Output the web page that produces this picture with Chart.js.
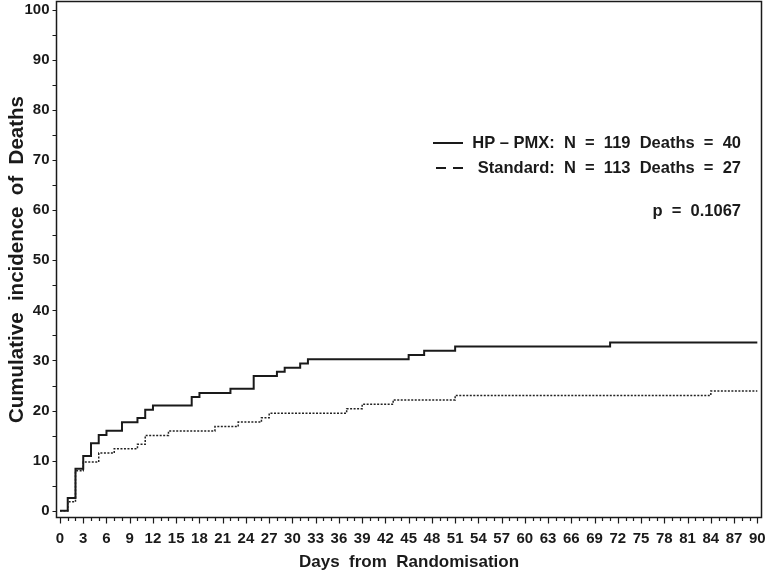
<!DOCTYPE html>
<html lang="en">
<head>
<meta charset="UTF-8">
<title>Cumulative incidence of Deaths</title>
<script src="https://cdn.jsdelivr.net/npm/chart.js"></script>
<style>
  html, body { margin: 0; padding: 0; background: #fff; }
  #wrap { width: 767px; height: 573px; }
</style>
</head>
<body>
<div id="wrap"><canvas id="cif"></canvas></div>
<script>
// step days and cumulative incidence (%) reached on that day
const hpDays = [0, 1, 2, 3, 4, 5, 6, 8, 10, 11, 12, 17, 18, 22, 25, 28, 29, 31, 32, 45, 47, 51, 71, 90];
const hpInc = [0, 2.52, 8.40, 10.92, 13.45, 15.13, 15.97, 17.65, 18.49, 20.17, 21.01, 22.69, 23.53, 24.37,
               26.89, 27.73, 28.57, 29.41, 30.25, 31.09, 31.93, 32.77, 33.61, 33.61];
const stdDays = [0, 1, 2, 3, 5, 7, 10, 11, 14, 20, 23, 26, 27, 37, 39, 43, 51, 84, 90];
const stdInc = [0, 1.77, 7.96, 9.73, 11.50, 12.39, 13.27, 15.04, 15.93, 16.81, 17.70, 18.58, 19.47,
                20.35, 21.24, 22.12, 23.01, 23.89, 23.89];

const xTicks = [0, 3, 6, 9, 12, 15, 18, 21, 24, 27, 30, 33, 36, 39, 42, 45, 48, 51, 54, 57, 60, 63, 66, 69, 72, 75, 78, 81, 84, 87, 90];
const yTicks = [0, 10, 20, 30, 40, 50, 60, 70, 80, 90, 100];

const legendLabels = ["HP \u2013 PMX:  N  =  119  Deaths  =  40", "Standard:  N  =  113  Deaths  =  27"];
const pLabel = "p  =  0.1067";

const FONT = "'Liberation Sans', Arial, sans-serif";
const NARROW = "'Liberation Sans Narrow', 'Liberation Sans', sans-serif";
const INK = "#1a1a1a";

const toPts = (xs, ys) => xs.map((d, i) => ({ x: d, y: ys[i] }));

// no extra room for the overhanging tick labels, the box is fixed
const noPad = s => { s.paddingLeft = s.paddingRight = s.paddingTop = s.paddingBottom = 0; };

// frame, minor ticks and the text legend
const decor = {
  id: "decor",
  afterDraw(chart) {
    const { ctx, chartArea: a, scales: { x, y } } = chart;
    ctx.save();
    ctx.strokeStyle = INK;
    ctx.lineWidth = 1.5;
    ctx.strokeRect(a.left, a.top, a.right - a.left, a.bottom - a.top);

    ctx.lineWidth = 1.2;
    ctx.beginPath();
    for (let d = 0; d <= 90; d++) {
      const px = Math.round(x.getPixelForValue(d)) + 0.5;
      ctx.moveTo(px, a.bottom);
      ctx.lineTo(px, a.bottom + (d % 3 === 0 ? 6 : 3.5));
    }
    for (let v = 0; v <= 100; v += 5) {
      const py = Math.round(y.getPixelForValue(v)) + 0.5;
      ctx.moveTo(a.left, py);
      ctx.lineTo(a.left - 4, py);
    }
    ctx.stroke();

    // legend
    ctx.fillStyle = INK;
    ctx.font = "bold 16.5px " + FONT;
    ctx.textBaseline = "middle";
    ctx.textAlign = "right";
    const right = 741;
    const rows = [143, 168];
    legendLabels.forEach((t, i) => ctx.fillText(t, right, rows[i]));
    ctx.fillText(pLabel, right, 211);

    ctx.lineWidth = 2;
    ctx.beginPath();
    ctx.moveTo(433, rows[0]);
    ctx.lineTo(463, rows[0]);
    ctx.stroke();
    ctx.setLineDash([10, 7]);
    ctx.beginPath();
    ctx.moveTo(436, rows[1]);
    ctx.lineTo(463, rows[1]);
    ctx.stroke();
    ctx.restore();
  }
};

new Chart(document.getElementById("cif"), {
  type: "line",
  data: {
    datasets: [
      {
        label: "HP-PMX",
        data: toPts(hpDays, hpInc),
        stepped: true,
        borderColor: INK,
        borderWidth: 2,
        pointRadius: 0,
        fill: false
      },
      {
        label: "Standard",
        data: toPts(stdDays, stdInc),
        stepped: true,
        borderColor: "#222",
        borderWidth: 1.5,
        borderDash: [2, 1.5],
        pointRadius: 0,
        fill: false
      }
    ]
  },
  options: {
    responsive: true,
    maintainAspectRatio: false,
    animation: false,
    layout: { padding: { top: 1.5, right: 5.5, left: 0, bottom: 0 } },
    plugins: { legend: { display: false }, tooltip: { enabled: false } },
    scales: {
      x: {
        type: "linear",
        min: -0.45,
        max: 90.54,
        afterBuildTicks: s => { s.ticks = xTicks.map(v => ({ value: v })); },
        afterFit: s => { s.height = 55.5; noPad(s); },
        grid: { display: false, drawTicks: false },
        border: { display: false },
        ticks: { color: INK, padding: 12, maxRotation: 0, autoSkip: false, font: { family: NARROW, size: 15, weight: "bold" } },
        title: { display: true, text: "Days  from  Randomisation", color: INK, padding: { top: 0, bottom: 0 },
                 font: { family: FONT, size: 17, weight: "bold" } }
      },
      y: {
        min: -1.36,
        max: 101.7,
        afterBuildTicks: s => { s.ticks = yTicks.map(v => ({ value: v })); },
        afterFit: s => { s.width = 56.5; noPad(s); },
        grid: { display: false, drawTicks: false },
        border: { display: false },
        ticks: { color: INK, padding: 7, font: { family: NARROW, size: 15, weight: "bold" } },
        title: { display: true, text: "Cumulative  incidence  of  Deaths", color: INK, padding: { top: 5, bottom: 0 },
                 font: { family: FONT, size: 20.5, weight: "bold" } }
      }
    }
  },
  plugins: [decor]
});
</script>
</body>
</html>
